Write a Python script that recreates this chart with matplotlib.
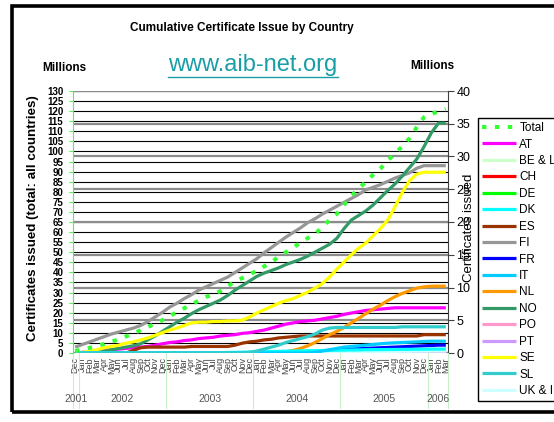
# Cumulative certificate issue by country (AIB), Dec 2001 - Mar 2006
import matplotlib
matplotlib.use("Agg")
import matplotlib.pyplot as plt
import numpy as np
from matplotlib.transforms import blended_transform_factory
from matplotlib.lines import Line2D
from matplotlib.patches import Rectangle

plt.rcParams['font.family'] = ['Liberation Sans', 'DejaVu Sans']

# month categories: Dec 2001 ... Mar 2006
month_names = ['Jan', 'Feb', 'Mar', 'Apr', 'May', 'Jun',
               'Jul', 'Aug', 'Sep', 'Oct', 'Nov', 'Dec']
months = ['Dec'] + month_names * 4 + ['Jan', 'Feb', 'Mar']
years = ['2001', '2002', '2003', '2004', '2005', '2006']
year_start = [-0.3, 0.5, 12.5, 24.5, 36.5, 48.5]
year_end = [0.5, 12.5, 24.5, 36.5, 48.5, 51.3]

# total of all countries (left axis, millions)
total = [1.0, 1.8, 2.6, 3.5, 4.5, 5.6, 6.8, 8.2, 9.7, 11.3, 12.9, 14.6, 16.3,
         18.3, 20.3, 22.2, 24.0, 26.0, 27.8, 29.2, 30.7, 33.2, 35.5, 37.2, 39.0,
         40.8, 43.0, 45.0, 47.8, 50.0, 52.3, 54.8, 57.0, 59.0, 62.5, 66.0, 69.0,
         73.5, 78.0, 81.5, 85.0, 88.5, 91.5, 95.5, 99.0, 102.5, 106.5, 112.0, 117.0,
         118.5, 120.0, 121.0]

# countries (right axis, millions)
at = [0.0, 0.1, 0.2, 0.3, 0.4, 0.5, 0.6, 0.7, 0.8, 0.9, 1.0, 1.2, 1.4,
      1.6, 1.7, 1.9, 2.0, 2.2, 2.3, 2.4, 2.6, 2.7, 2.8, 3.0, 3.1,
      3.3, 3.5, 3.8, 4.1, 4.4, 4.6, 4.8, 4.9, 5.0, 5.2, 5.4, 5.6,
      5.9, 6.1, 6.3, 6.5, 6.6, 6.7, 6.8, 6.9, 6.9, 6.9, 6.9, 6.9,
      6.9, 6.9, 6.9]
be = [0.0] * 37 + [0.02, 0.03, 0.04, 0.05, 0.05, 0.06, 0.07, 0.08, 0.08, 0.09,
                   0.1, 0.1, 0.1, 0.1, 0.1]
ch = [0.0] * 52
de = [0.0] * 52
dk = [0.0] * 20 + [0.05, 0.08, 0.1, 0.12, 0.15, 0.18, 0.2, 0.22, 0.25, 0.27,
                   0.3, 0.32, 0.34, 0.36, 0.38, 0.4, 0.42, 0.44, 0.46, 0.48,
                   0.5, 0.51, 0.52, 0.53, 0.54, 0.55, 0.56, 0.57, 0.58, 0.59,
                   0.6, 0.6]
es = [0.0, 0.0, 0.0, 0.0, 0.0, 0.0, 0.0, 0.0, 0.4, 0.8, 0.9, 0.9, 0.9,
      0.9, 0.9, 0.9, 1.0, 1.0, 1.0, 1.0, 1.0, 1.0, 1.2, 1.5, 1.7,
      1.8, 2.0, 2.1, 2.3, 2.4, 2.5, 2.6, 2.6, 2.6, 2.6, 2.6, 2.6,
      2.6, 2.6, 2.6, 2.6, 2.6, 2.6, 2.6, 2.6, 2.6, 2.6, 2.6, 2.8,
      2.8, 2.8, 2.8]
fi = [0.9, 1.3, 1.7, 2.1, 2.5, 2.9, 3.2, 3.5, 3.8, 4.2, 4.8, 5.5, 6.2,
      7.0, 7.6, 8.3, 8.9, 9.6, 10.1, 10.6, 11.1, 11.6, 12.3, 13.0, 13.7,
      14.4, 15.3, 16.1, 16.9, 17.7, 18.4, 19.1, 19.9, 20.5, 21.2, 21.8, 22.4,
      23.0, 23.6, 24.2, 24.9, 25.3, 25.7, 26.2, 26.7, 27.1, 27.5, 28.2, 28.6,
      28.6, 28.6, 28.6]
fr = [0.0] * 30 + [0.05, 0.1, 0.15, 0.2, 0.3, 0.4, 0.5, 0.55, 0.6, 0.65, 0.7,
                   0.75, 0.8, 0.85, 0.9, 0.95, 1.0, 1.05, 1.1, 1.15, 1.2, 1.2]
it = [0.0] * 33 + [0.1, 0.3, 0.5, 0.7, 0.9, 1.0, 1.1, 1.2, 1.3, 1.4, 1.5,
                   1.55, 1.6, 1.65, 1.7, 1.75, 1.8, 1.8, 1.8]
nl = [0.0] * 27 + [0.05, 0.1, 0.2, 0.4, 0.7, 1.1, 1.6, 2.2, 2.8, 3.3,
                   3.9, 4.6, 5.3, 6.0, 6.7, 7.3, 8.0, 8.6, 9.1, 9.5, 9.9, 10.1,
                   10.2, 10.2, 10.2]
no = [0.0, 0.0, 0.1, 0.2, 0.3, 0.5, 0.7, 0.9, 1.1, 1.4, 2.0, 2.6, 3.3,
      4.0, 4.7, 5.3, 6.0, 6.6, 7.1, 7.6, 8.1, 8.8, 9.6, 10.3, 11.0,
      11.7, 12.2, 12.6, 13.0, 13.5, 13.9, 14.3, 14.8, 15.4, 16.0, 16.6, 17.5,
      19.0, 20.3, 21.0, 21.7, 22.6, 23.7, 24.8, 25.8, 27.0, 28.3, 29.6, 31.5,
      33.6, 35.1, 35.1]
po = [0.0] * 52
pt = [0.0] * 52
se = [0.0, 0.1, 0.3, 0.5, 0.8, 1.0, 1.2, 1.5, 1.7, 2.0, 2.3, 2.7, 3.1,
      3.5, 3.8, 4.2, 4.6, 4.7, 4.7, 4.8, 4.8, 4.9, 4.9, 5.0, 5.5,
      6.1, 6.6, 7.1, 7.6, 8.0, 8.3, 8.8, 9.3, 9.9, 10.6, 11.6, 12.8,
      13.9, 15.0, 16.0, 16.8, 17.9, 19.0, 20.3, 22.3, 24.5, 26.3, 27.3, 27.6,
      27.6, 27.6, 27.6]
sl = [0.0] * 24 + [0.1, 0.3, 0.6, 0.9, 1.2, 1.6, 1.9, 2.2, 2.5, 2.9, 3.5, 3.8,
                   3.9, 3.9, 3.9, 3.9, 3.9, 3.9, 3.9, 3.9, 3.9, 4.0, 4.0, 4.0,
                   4.0, 4.0, 4.0, 4.0]
uk = [0.0] * 30 + [0.02, 0.04, 0.06, 0.08, 0.1, 0.12, 0.14, 0.16, 0.18, 0.2,
                   0.2, 0.22, 0.22, 0.24, 0.24, 0.26, 0.26, 0.28, 0.28, 0.3,
                   0.3, 0.3]

countries = ['AT', 'BE & L', 'CH', 'DE', 'DK', 'ES', 'FI', 'FR', 'IT',
             'NL', 'NO', 'PO', 'PT', 'SE', 'SL', 'UK & I']
series = [at, be, ch, de, dk, es, fi, fr, it, nl, no, po, pt, se, sl, uk]
colors = ['#ff00ff', '#ccffcc', '#ff0000', '#00ff00', '#00ffff', '#993300',
          '#969696', '#0000ff', '#00ccff', '#ff9900', '#339966', '#ff99cc',
          '#cc99ff', '#ffff00', '#33cccc', '#ccffff']

W, H = 554, 422
fig = plt.figure(figsize=(W / 100, H / 100), dpi=100)
ax = fig.add_axes([73 / W, 1 - 353 / H, 375 / W, 262 / H])   # left: total
ax2 = ax.twinx()                                              # right: countries
ax.set_zorder(ax2.get_zorder() + 1)
ax.patch.set_visible(False)

x = np.arange(len(months))
ax.set_xlim(-0.3, 51.3)
ax.set_ylim(0, 130)
ax2.set_ylim(0, 40)
ax.set_yticks(range(0, 131, 5))
ax2.set_yticks(range(0, 41, 5))

# gridlines: black for left axis, grey for right axis, both below the data
trans = blended_transform_factory(ax2.transAxes, ax.transData)
for v in ax.get_yticks():
    ax2.plot([0, 1], [v, v], transform=trans, color='black', lw=0.8, zorder=0.4)
ax2.grid(axis='y', color='#8c8c8c', lw=1.6, zorder=0.6)
ax2.set_axisbelow(True)

handles = []
for name, vals, c in zip(countries, series, colors):
    ln, = ax2.plot(x, vals, color=c, lw=2.3, label=name, solid_capstyle='butt',
                   zorder=3 if name in ('SL', 'DK', 'IT') else 2)
    handles.append(ln)
tot, = ax.plot(x, total, color='#33ff33', lw=2.9, linestyle=(0, (1.1, 2.1)),
               label='Total')
handles = [tot] + handles

# spines and ticks
for s in ['top', 'right', 'bottom']:
    ax.spines[s].set_visible(False)
for s in ['top', 'left', 'bottom']:
    ax2.spines[s].set_visible(False)
ax.spines['left'].set_color('#55ee55')
ax2.spines['right'].set_color('#404040')
ax.tick_params(axis='y', length=3, color='#55ee55', labelsize=7, pad=4)
for t in ax.get_yticklabels():
    t.set_fontweight('bold')
ax2.tick_params(axis='y', length=4, color='#404040', labelsize=9, pad=2)
ax.set_xticks(x)
ax.set_xticklabels(months, rotation=90, fontsize=6.5, color='#444444')
ax.tick_params(axis='x', length=0, pad=3)

# year groups under the month labels
tx = blended_transform_factory(ax.transData, ax.transAxes)
for yr, a, b in zip(years, year_start, year_end):
    ax.text((a + b) / 2, -0.176, yr, transform=tx, ha='center', va='center',
            fontsize=7.5, color='#555555', clip_on=False)
for xs in year_start + [year_end[-1]]:
    ax.add_line(Line2D([xs, xs], [0, -0.21], transform=tx, color='#c8f0c8',
                       lw=0.8, clip_on=False))

# texts
fig.text(242 / W, 1 - 28 / H, 'Cumulative Certificate Issue by Country',
         ha='center', va='center', fontsize=8.5, fontweight='bold')
fig.text(64 / W, 1 - 68 / H, 'Millions', ha='center', va='center',
         fontsize=8.5, fontweight='bold')
fig.text(432 / W, 1 - 66 / H, 'Millions', ha='center', va='center',
         fontsize=8.5, fontweight='bold')
url = fig.text(253 / W, 1 - 71 / H, 'www.aib-net.org', ha='center', va='baseline',
               fontsize=17, color='#1a9ea6')
fig.text(33 / W, 1 - 218 / H, 'Certificates issued (total: all countries)',
         rotation=90, ha='center', va='center', fontsize=9.6, fontweight='bold')
fig.text(469 / W, 1 - 228 / H, 'Certificates issued', rotation=90,
         ha='center', va='center', fontsize=9.5, zorder=10)

fig.legend(handles, [h.get_label() for h in handles], loc='upper left',
           bbox_to_anchor=(478 / W, 1 - 118 / H), fancybox=False,
           edgecolor='black', framealpha=1, fontsize=8.5, handlelength=2.9,
           handletextpad=0.25, labelspacing=0.375, borderpad=0.35,
           borderaxespad=0)

# underline the url
fig.canvas.draw()
bb = url.get_window_extent().transformed(fig.transFigure.inverted())
fig.add_artist(Line2D([bb.x0, bb.x1], [1 - 76.5 / H, 1 - 76.5 / H],
                      transform=fig.transFigure, color='#1a9ea6', lw=1))

# slide frame
fig.add_artist(Rectangle((11.5 / W, 1 - 412 / H), 600 / W, 406.5 / H,
                         transform=fig.transFigure, fill=False,
                         edgecolor='black', lw=2.6))

fig.savefig('out.png', dpi=100)
